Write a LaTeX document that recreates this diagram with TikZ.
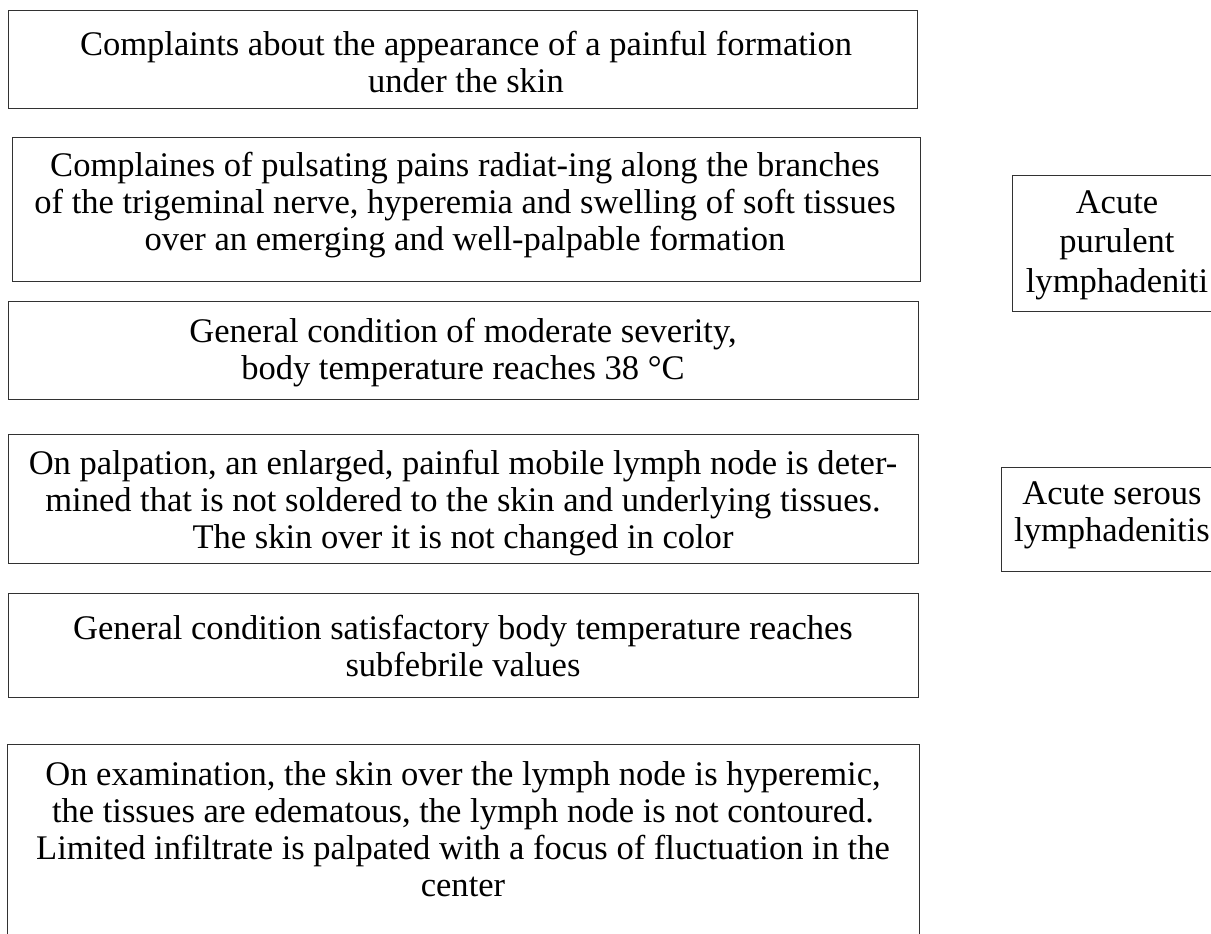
\documentclass[tikz,border=0pt]{standalone}
\usepackage{fontspec}
\setmainfont{Liberation Serif}

\tikzset{every picture/.style={line width=0.75pt}}
\tikzset{
  boxtext/.style={inner sep=0pt, align=center, font=\fontsize{25.9}{27.75}\selectfont}
}

\begin{document}
\begin{tikzpicture}[x=0.75pt,y=0.75pt,yscale=-1,xscale=1]
\useasboundingbox (0,0) rectangle (1211,933);

%Shape: Rectangle
\draw  [color={rgb, 255:red, 50; green, 50; blue, 50 }] (8,10) rectangle (917,108) ;
%Shape: Rectangle
\draw  [color={rgb, 255:red, 50; green, 50; blue, 50 }] (12,137) rectangle (920,281) ;
%Shape: Rectangle
\draw  [color={rgb, 255:red, 50; green, 50; blue, 50 }] (8,301) rectangle (918,399) ;
%Shape: Rectangle
\draw  [color={rgb, 255:red, 50; green, 50; blue, 50 }] (8,434) rectangle (918,563) ;
%Shape: Rectangle
\draw  [color={rgb, 255:red, 50; green, 50; blue, 50 }] (8,593) rectangle (918,697) ;
%Shape: Rectangle
\draw  [color={rgb, 255:red, 50; green, 50; blue, 50 }] (7,744) rectangle (919,960) ;
%Shape: Rectangle
\draw  [color={rgb, 255:red, 50; green, 50; blue, 50 }] (1012,175) rectangle (1240,311) ;
%Shape: Rectangle
\draw  [color={rgb, 255:red, 50; green, 50; blue, 50 }] (1001,467) rectangle (1240,571) ;

% Text Node
\node [boxtext] (complaints) at (466,62.5) {Complaints about the appearance of a painful formation\\under the skin};
% Text Node
\node [boxtext] (pains) at (465,205) {Complaines of pulsating pains radiat-ing along the branches\\of the trigeminal nerve, hyperemia and swelling of soft tissues\\over an emerging and well-palpable formation};
% Text Node
\node [boxtext] (moderate) at (463,353) {General condition of moderate severity,\\body temperature reaches 38 °C};
% Text Node
\node [boxtext] (palpation) at (463,503) {On palpation, an enlarged, painful mobile lymph node is deter-\\mined that is not soldered to the skin and underlying tissues.\\The skin over it is not changed in color};
% Text Node
\node [boxtext] (satisfactory) at (463,645.5) {General condition satisfactory body temperature reaches\\subfebrile values};
% Text Node
\node [boxtext] (examination) at (463,829) {On examination, the skin over the lymph node is hyperemic,\\the tissues are edematous, the lymph node is not contoured.\\Limited infiltrate is palpated with a focus of fluctuation in the\\center};
% Text Node
\node [boxtext, font=\fontsize{25.9}{29.5}\selectfont] (purulent) at (1117,245) {Acute\\purulent\\lymphadeniti};
% Text Node
\node [boxtext] (serous) at (1112,515.5) {Acute serous\\lymphadenitis};

\end{tikzpicture}
\end{document}
